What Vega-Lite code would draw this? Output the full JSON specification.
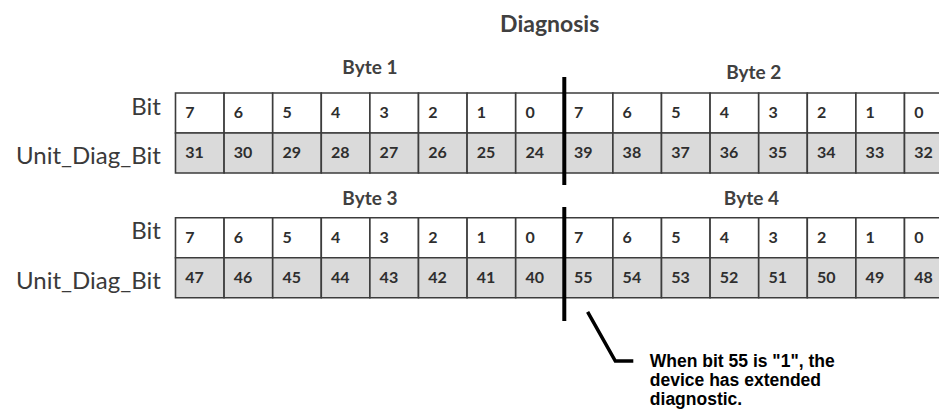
{
  "$schema": "https://vega.github.io/schema/vega-lite/v6.json",
  "width": 939,
  "height": 414,
  "autosize": {"type": "fit", "contains": "padding"},
  "padding": 0,
  "background": "white",
  "config": {"view": {"stroke": null}},
  "datasets": {
    "cells": [
      {"table": 1, "row": "Bit", "col": 0, "label": "7"}, {"table": 1, "row": "Bit", "col": 1, "label": "6"},
      {"table": 1, "row": "Bit", "col": 2, "label": "5"}, {"table": 1, "row": "Bit", "col": 3, "label": "4"},
      {"table": 1, "row": "Bit", "col": 4, "label": "3"}, {"table": 1, "row": "Bit", "col": 5, "label": "2"},
      {"table": 1, "row": "Bit", "col": 6, "label": "1"}, {"table": 1, "row": "Bit", "col": 7, "label": "0"},
      {"table": 1, "row": "Bit", "col": 8, "label": "7"}, {"table": 1, "row": "Bit", "col": 9, "label": "6"},
      {"table": 1, "row": "Bit", "col": 10, "label": "5"}, {"table": 1, "row": "Bit", "col": 11, "label": "4"},
      {"table": 1, "row": "Bit", "col": 12, "label": "3"}, {"table": 1, "row": "Bit", "col": 13, "label": "2"},
      {"table": 1, "row": "Bit", "col": 14, "label": "1"}, {"table": 1, "row": "Bit", "col": 15, "label": "0"},
      {"table": 1, "row": "Unit_Diag_Bit", "col": 0, "label": "31"}, {"table": 1, "row": "Unit_Diag_Bit", "col": 1, "label": "30"},
      {"table": 1, "row": "Unit_Diag_Bit", "col": 2, "label": "29"}, {"table": 1, "row": "Unit_Diag_Bit", "col": 3, "label": "28"},
      {"table": 1, "row": "Unit_Diag_Bit", "col": 4, "label": "27"}, {"table": 1, "row": "Unit_Diag_Bit", "col": 5, "label": "26"},
      {"table": 1, "row": "Unit_Diag_Bit", "col": 6, "label": "25"}, {"table": 1, "row": "Unit_Diag_Bit", "col": 7, "label": "24"},
      {"table": 1, "row": "Unit_Diag_Bit", "col": 8, "label": "39"}, {"table": 1, "row": "Unit_Diag_Bit", "col": 9, "label": "38"},
      {"table": 1, "row": "Unit_Diag_Bit", "col": 10, "label": "37"}, {"table": 1, "row": "Unit_Diag_Bit", "col": 11, "label": "36"},
      {"table": 1, "row": "Unit_Diag_Bit", "col": 12, "label": "35"}, {"table": 1, "row": "Unit_Diag_Bit", "col": 13, "label": "34"},
      {"table": 1, "row": "Unit_Diag_Bit", "col": 14, "label": "33"}, {"table": 1, "row": "Unit_Diag_Bit", "col": 15, "label": "32"},
      {"table": 2, "row": "Bit", "col": 0, "label": "7"}, {"table": 2, "row": "Bit", "col": 1, "label": "6"},
      {"table": 2, "row": "Bit", "col": 2, "label": "5"}, {"table": 2, "row": "Bit", "col": 3, "label": "4"},
      {"table": 2, "row": "Bit", "col": 4, "label": "3"}, {"table": 2, "row": "Bit", "col": 5, "label": "2"},
      {"table": 2, "row": "Bit", "col": 6, "label": "1"}, {"table": 2, "row": "Bit", "col": 7, "label": "0"},
      {"table": 2, "row": "Bit", "col": 8, "label": "7"}, {"table": 2, "row": "Bit", "col": 9, "label": "6"},
      {"table": 2, "row": "Bit", "col": 10, "label": "5"}, {"table": 2, "row": "Bit", "col": 11, "label": "4"},
      {"table": 2, "row": "Bit", "col": 12, "label": "3"}, {"table": 2, "row": "Bit", "col": 13, "label": "2"},
      {"table": 2, "row": "Bit", "col": 14, "label": "1"}, {"table": 2, "row": "Bit", "col": 15, "label": "0"},
      {"table": 2, "row": "Unit_Diag_Bit", "col": 0, "label": "47"}, {"table": 2, "row": "Unit_Diag_Bit", "col": 1, "label": "46"},
      {"table": 2, "row": "Unit_Diag_Bit", "col": 2, "label": "45"}, {"table": 2, "row": "Unit_Diag_Bit", "col": 3, "label": "44"},
      {"table": 2, "row": "Unit_Diag_Bit", "col": 4, "label": "43"}, {"table": 2, "row": "Unit_Diag_Bit", "col": 5, "label": "42"},
      {"table": 2, "row": "Unit_Diag_Bit", "col": 6, "label": "41"}, {"table": 2, "row": "Unit_Diag_Bit", "col": 7, "label": "40"},
      {"table": 2, "row": "Unit_Diag_Bit", "col": 8, "label": "55"}, {"table": 2, "row": "Unit_Diag_Bit", "col": 9, "label": "54"},
      {"table": 2, "row": "Unit_Diag_Bit", "col": 10, "label": "53"}, {"table": 2, "row": "Unit_Diag_Bit", "col": 11, "label": "52"},
      {"table": 2, "row": "Unit_Diag_Bit", "col": 12, "label": "51"}, {"table": 2, "row": "Unit_Diag_Bit", "col": 13, "label": "50"},
      {"table": 2, "row": "Unit_Diag_Bit", "col": 14, "label": "49"}, {"table": 2, "row": "Unit_Diag_Bit", "col": 15, "label": "48"}
    ],
    "rowLabels": [
      {"text": "Bit", "x": -0.3, "y": 0.55},
      {"text": "Unit_Diag_Bit", "x": -0.3, "y": 1.78},
      {"text": "Bit", "x": -0.3, "y": 3.65},
      {"text": "Unit_Diag_Bit", "x": -0.3, "y": 4.9}
    ],
    "bytes": [
      {"text": "Byte 1", "x": 4.0, "y": -0.47},
      {"text": "Byte 2", "x": 11.9, "y": -0.35},
      {"text": "Byte 3", "x": 4.0, "y": 2.8},
      {"text": "Byte 4", "x": 11.85, "y": 2.8}
    ],
    "titles": [{"text": "Diagnosis", "x": 7.7, "y": -1.53}],
    "dividers": [
      {"x": 8, "y": -0.4, "y2": 2.3},
      {"x": 8, "y": 2.85, "y2": 5.7}
    ],
    "pointer": [
      {"i": 0, "x": 8.48, "y": 5.47},
      {"i": 1, "x": 9.05, "y": 6.7},
      {"i": 2, "x": 9.42, "y": 6.7}
    ],
    "note": [{"text": ["When bit 55 is \"1\", the", "device has extended", "diagnostic."], "x": 9.76, "y": 6.85}]
  },
  "layer": [
    {
      "data": {"name": "cells"},
      "transform": [
        {"calculate": "(datum.table - 1) * 3.12 + (datum.row === 'Bit' ? 0 : 1)", "as": "y0"},
        {"calculate": "datum.y0 + 1", "as": "y1"},
        {"calculate": "datum.col + 1", "as": "x1"},
        {"calculate": "datum.y0 + 0.5", "as": "ym"},
        {"calculate": "datum.col + 0.2", "as": "xt"}
      ],
      "layer": [
        {
          "mark": {"type": "rect", "stroke": "#3c3c3c", "strokeWidth": 1.6, "clip": true},
          "encoding": {
            "x": {"field": "col", "type": "quantitative", "scale": {"domain": [-3.611, 15.71], "nice": false, "zero": false}, "axis": null},
            "x2": {"field": "x1"},
            "y": {"field": "y0", "type": "quantitative", "scale": {"domain": [-2.325, 8.025], "nice": false, "zero": false, "reverse": true}, "axis": null},
            "y2": {"field": "y1"},
            "fill": {"field": "row", "type": "nominal", "scale": {"domain": ["Bit", "Unit_Diag_Bit"], "range": ["#ffffff", "#dadada"]}, "legend": null}
          }
        },
        {
          "mark": {"type": "text", "align": "left", "baseline": "middle", "font": "Lato", "fontWeight": "bold", "fontSize": 16, "color": "#2e2e2e"},
          "encoding": {
            "x": {"field": "xt", "type": "quantitative"},
            "y": {"field": "ym", "type": "quantitative"},
            "text": {"field": "label"}
          }
        }
      ]
    },
    {
      "data": {"name": "rowLabels"},
      "mark": {"type": "text", "align": "right", "baseline": "alphabetic", "font": "Lato", "fontSize": 24, "color": "#3a3a3a"},
      "encoding": {
        "x": {"field": "x", "type": "quantitative"},
        "y": {"field": "y", "type": "quantitative"},
        "text": {"field": "text"}
      }
    },
    {
      "data": {"name": "bytes"},
      "mark": {"type": "text", "align": "center", "baseline": "alphabetic", "font": "Lato", "fontWeight": "bold", "fontSize": 19, "color": "#404040"},
      "encoding": {
        "x": {"field": "x", "type": "quantitative"},
        "y": {"field": "y", "type": "quantitative"},
        "text": {"field": "text"}
      }
    },
    {
      "data": {"name": "titles"},
      "mark": {"type": "text", "align": "center", "baseline": "alphabetic", "font": "Lato", "fontWeight": "bold", "fontSize": 23, "color": "#404040"},
      "encoding": {
        "x": {"field": "x", "type": "quantitative"},
        "y": {"field": "y", "type": "quantitative"},
        "text": {"field": "text"}
      }
    },
    {
      "data": {"name": "dividers"},
      "mark": {"type": "rule", "strokeWidth": 4, "color": "#000000"},
      "encoding": {
        "x": {"field": "x", "type": "quantitative"},
        "y": {"field": "y", "type": "quantitative"},
        "y2": {"field": "y2"}
      }
    },
    {
      "data": {"name": "pointer"},
      "mark": {"type": "line", "strokeWidth": 3.5, "color": "#000000", "strokeCap": "butt", "strokeJoin": "miter"},
      "encoding": {
        "x": {"field": "x", "type": "quantitative"},
        "y": {"field": "y", "type": "quantitative"},
        "order": {"field": "i", "type": "quantitative"}
      }
    },
    {
      "data": {"name": "note"},
      "mark": {"type": "text", "align": "left", "baseline": "alphabetic", "font": "Liberation Sans", "fontWeight": "bold", "fontSize": 17.5, "lineHeight": 19, "color": "#000000"},
      "encoding": {
        "x": {"field": "x", "type": "quantitative"},
        "y": {"field": "y", "type": "quantitative"},
        "text": {"field": "text"}
      }
    }
  ]
}
